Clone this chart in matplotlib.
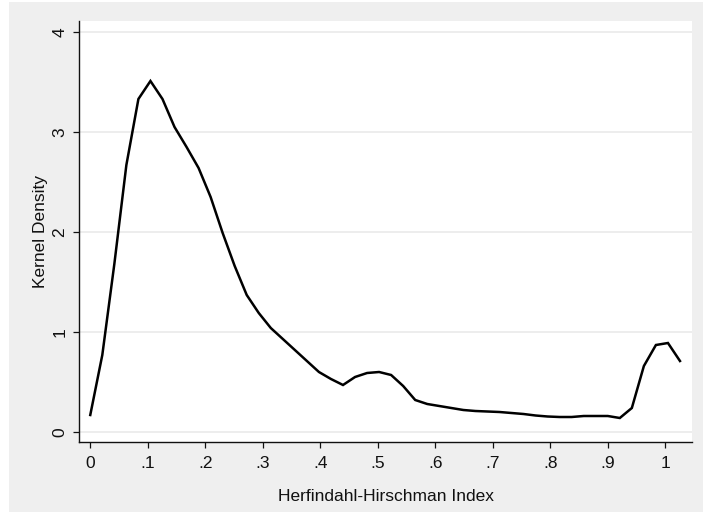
import matplotlib
matplotlib.use("Agg")
import matplotlib.pyplot as plt
import numpy as np
from matplotlib.patches import Rectangle

plt.rcParams['font.family'] = ['Liberation Sans', 'DejaVu Sans']

# kernel density estimate, 50 evaluation points
hhi_start = 0.0
hhi_end = 1.0256
n_points = 50
density = [0.17, 0.77, 1.68, 2.67, 3.33, 3.51, 3.33, 3.05, 2.85, 2.64,
           2.35, 1.99, 1.66, 1.37, 1.19, 1.04, 0.93, 0.82, 0.71, 0.60,
           0.53, 0.47, 0.55, 0.59, 0.60, 0.57, 0.46, 0.32, 0.28, 0.26,
           0.24, 0.22, 0.21, 0.205, 0.20, 0.19, 0.18, 0.165, 0.155, 0.15,
           0.15, 0.16, 0.16, 0.16, 0.14, 0.24, 0.66, 0.87, 0.89, 0.71]
x_ticks = [0, .1, .2, .3, .4, .5, .6, .7, .8, .9, 1]
x_tick_labels = ["0", ".1", ".2", ".3", ".4", ".5", ".6", ".7", ".8", ".9", "1"]
y_ticks = [0, 1, 2, 3, 4]

hhi = np.linspace(hhi_start, hhi_end, n_points)

fig = plt.figure(figsize=(7.03, 5.12), dpi=100, facecolor="white")
# grey graph region (Stata style)
fig.add_artist(Rectangle((9 / 703, 0), 1 - 9 / 703, 1 - 2 / 512,
                         transform=fig.transFigure, facecolor="#efefef",
                         edgecolor="none", zorder=-10))

ax = fig.add_axes([79 / 703, 1 - 442 / 512, (692 - 79) / 703, (442 - 21) / 512])
ax.set_facecolor("white")

ax.plot(hhi, density, color="black", lw=1.8, solid_joinstyle="miter", zorder=3)

ax.set_xlim(-0.0196, 1.0465)
ax.set_ylim(-0.1, 4.11)
ax.set_xticks(x_ticks)
ax.set_xticklabels(x_tick_labels)
ax.set_yticks(y_ticks)
ax.set_yticklabels([str(v) for v in y_ticks], rotation=90, va="center")

ax.grid(axis="y", color="#e8e8e8", lw=1.1, zorder=1)
ax.set_axisbelow(True)

for side in ["top", "right"]:
    ax.spines[side].set_visible(False)
for side in ["left", "bottom"]:
    ax.spines[side].set_color("#111111")
    ax.spines[side].set_linewidth(1.0)

ax.tick_params(axis="both", direction="out", length=4.5, width=0.9,
               color="#111111", labelsize=12.5, labelcolor="#111111", pad=4)
ax.tick_params(axis="x", pad=5.5)

ax.set_xlabel("Herfindahl-Hirschman Index", fontsize=12.5, color="#111111", labelpad=13)
ax.set_ylabel("Kernel Density", fontsize=12.5, color="#111111", labelpad=3)

fig.savefig("out.png", dpi=100, facecolor=fig.get_facecolor())
